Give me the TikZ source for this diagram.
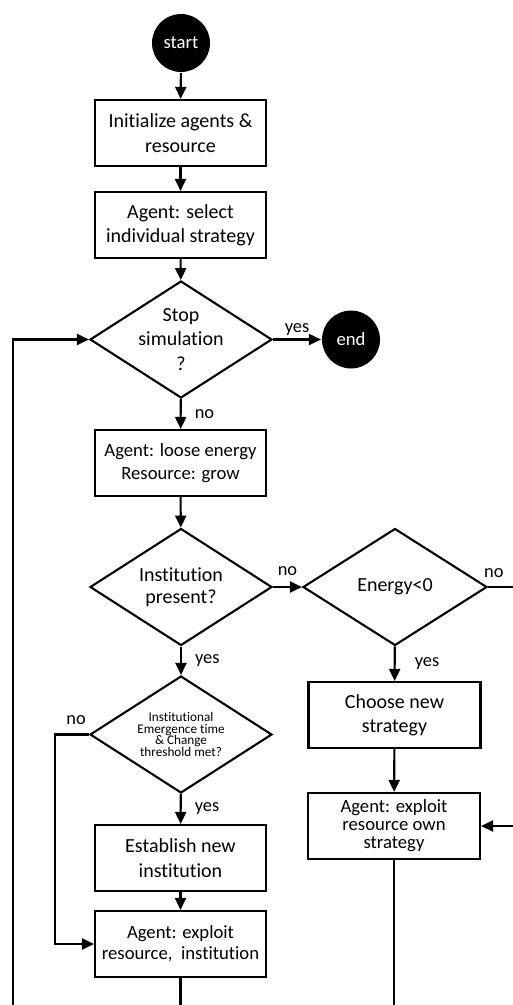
\documentclass[tikz,border=0pt]{standalone}
\usepackage{fontspec}
\setmainfont{Carlito}[Ligatures=NoCommon]
\usetikzlibrary{arrows.meta, shapes.geometric}
\newcommand\tightlines{\setlength{\lineskiplimit}{-8pt}}

\begin{document}
\begin{tikzpicture}[
  x=1pt, y=-1pt,
  line width=2.1pt,
  box/.style={draw, line width=2.1pt, align=center, minimum width=171pt, minimum height=66pt, inner sep=2pt, font=\fontsize{20}{24.4}\selectfont},
  boxsm/.style={box, font=\fontsize{18.7}{22.5}\selectfont\tightlines},
  decision/.style={diamond, draw, line width=2.1pt, align=center, aspect=1.556, inner sep=0pt, minimum width=182pt, minimum height=117pt, font=\fontsize{20}{24.4}\selectfont},
  terminal/.style={circle, fill=black, text=white, minimum size=58pt, inner sep=0pt, font=\fontsize{18.7}{22}\selectfont},
  arrow/.style={-{Triangle[length=12pt, width=11pt]}, line width=2.1pt},
  lbl/.style={font=\fontsize{18.4}{22}\selectfont, inner sep=2pt}
]
\useasboundingbox (0,0) rectangle (513,1005);
\clip (0,0) rectangle (513,1005);

% main column
\node[terminal] (start) at (181,43) {start};
\node[box] (init) at (180.5,133) {Initialize agents \&\\resource};
\node[box] (select) at (180.5,225) {Agent: select\\individual strategy};
\node[decision] (stop) at (181,339.5) {Stop\\simulation\\?};
\node[terminal] (end) at (351,339.5) {end};
\node[boxsm] (loose) at (180.5,463) {Agent: loose energy\\Resource: grow};
\node[decision, font=\fontsize{20}{22.3}\selectfont] (inst) at (181,587) {Institution\\present?};
\node[decision, font=\fontsize{13.2}{11.7}\selectfont\tightlines] (thresh) at (181,734.5) {Institutional\\Emergence time\\\& Change\\threshold met?};
\node[box] (establish) at (180.5,858) {Establish new\\institution};
\node[boxsm, font=\fontsize{18.7}{21}\selectfont\tightlines] (exploitinst) at (180.5,944) {Agent: exploit\\resource,\ \ institution};

% right column
\node[decision, minimum width=184pt] (energy) at (395,587) {Energy<0};
\node[box, minimum width=172pt] (choose) at (394.5,715) {Choose new\\strategy};
\node[boxsm, minimum width=172pt, font=\fontsize{18.7}{18}\selectfont\tightlines] (exploitown) at (394,826) {Agent: exploit\\resource own\\strategy};

\coordinate (noleft) at (55,734.5);
\coordinate (rightturn) at (530,587);
\coordinate (loopcorner) at (13,1030);

\draw[arrow] (start) -- (init);
\draw[arrow] (init) -- (select);
\draw[arrow] (select) -- (stop);
\draw[arrow] (stop.east) -- node[lbl, above=1pt] {yes} (end.west);
\draw[arrow] (stop) -- node[lbl, right=11pt] {no} (loose);
\draw[arrow] (loose) -- (inst);
\draw[arrow] (inst.east) -- node[lbl, above=8pt] {no} (energy.west);
\draw[arrow] (inst) -- node[lbl, right=11pt] {yes} (thresh);
\draw[arrow] (energy) -- node[lbl, right=17pt] {yes} (choose);
\draw[arrow] (choose) -- (exploitown);
\draw[arrow] (thresh) -- node[lbl, right=11pt] {yes} (establish);
\draw[arrow] (establish) -- (exploitinst);
\draw[arrow] (thresh.west) -- node[lbl, above=7pt, pos=0.38] {no} (noleft) |- (exploitinst.west);
\draw (energy.east) -- node[lbl, above=6pt, pos=0.14] {no} (rightturn);
\draw[arrow] (rightturn) |- (exploitown.east);
\draw[arrow] (exploitinst.south) |- (loopcorner) |- (stop.west);
\draw (exploitown.south) |- (loopcorner);
\end{tikzpicture}
\end{document}
